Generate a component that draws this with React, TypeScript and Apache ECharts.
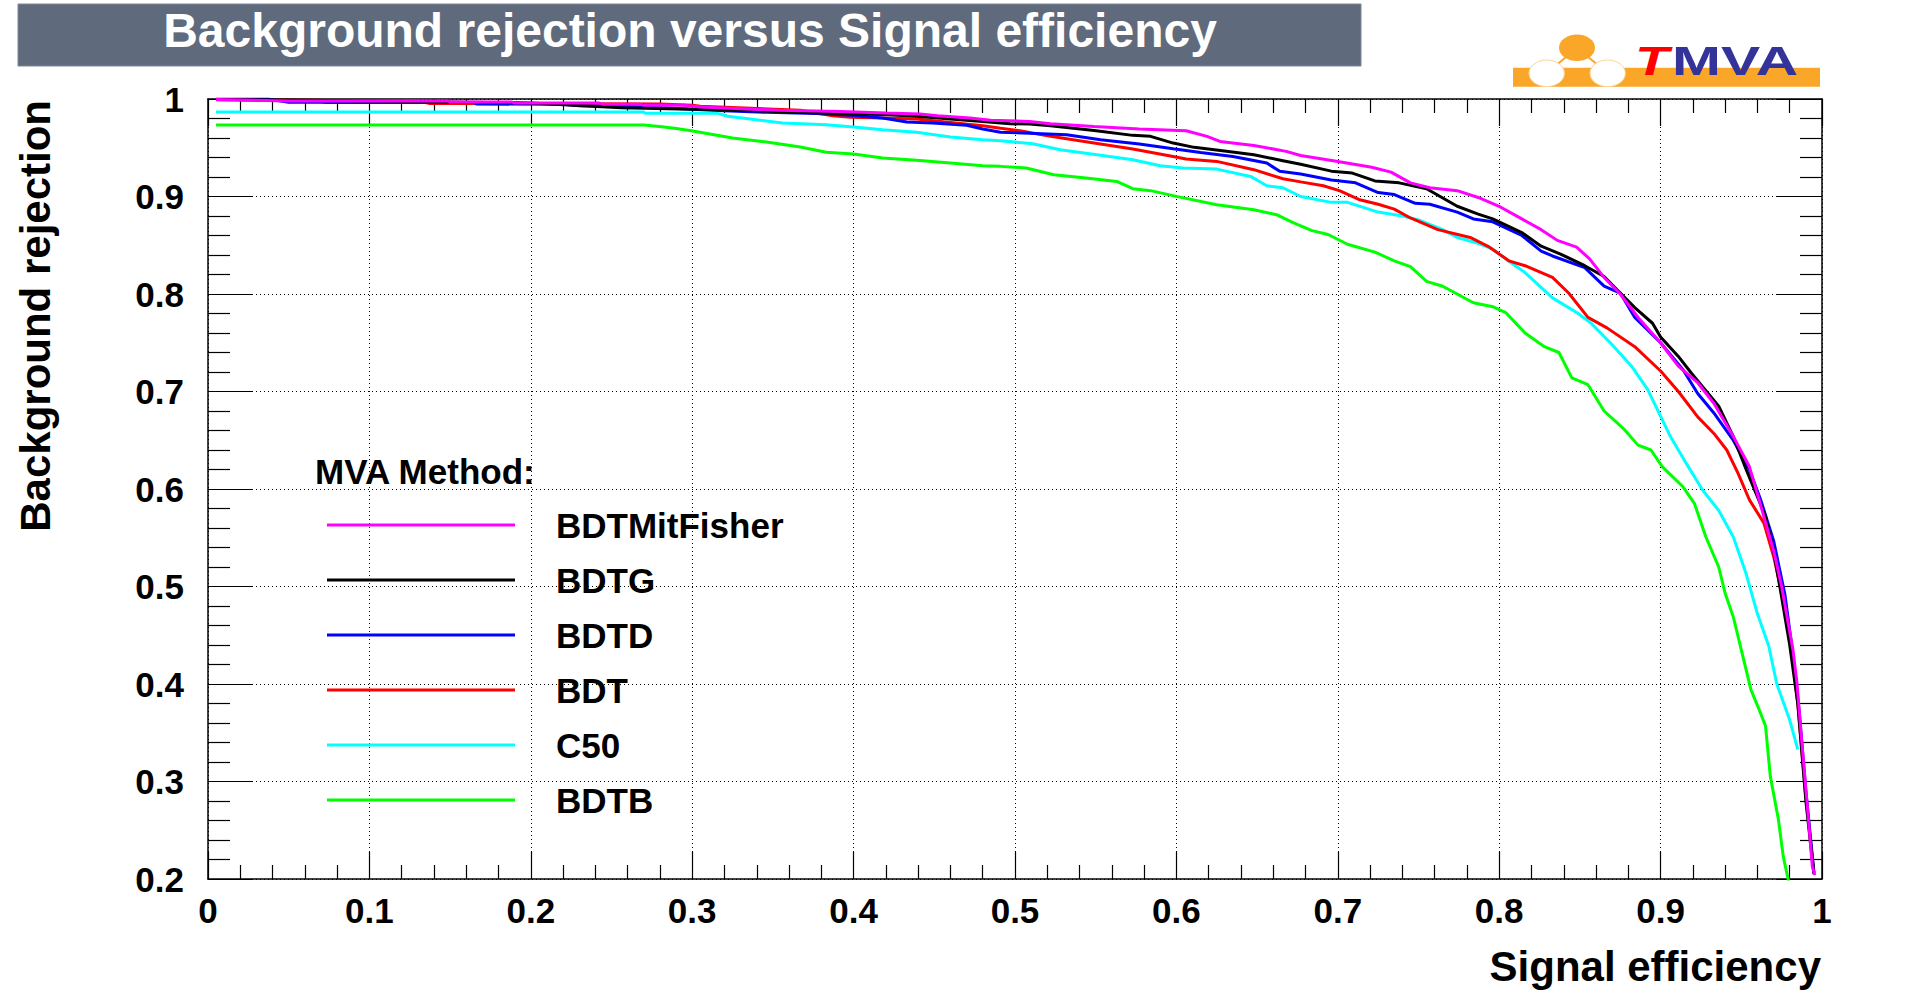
import React, { useEffect, useRef } from "react";
import * as echarts from "echarts";

const FONT = "'Liberation Sans', Arial, Helvetica, sans-serif";

const chartTitle = "Background rejection versus Signal efficiency";
const xTitle = "Signal efficiency";
const yTitle = "Background rejection";
const legendHeader = "MVA Method:";

// legend order (top to bottom)
const methodNames = ["BDTMitFisher", "BDTG", "BDTD", "BDT", "C50", "BDTB"];
const methodColors = ["#ff00ff", "#000000", "#0000ff", "#ff0000", "#00ffff", "#00ff00"];

// [signal efficiency, background rejection]
const BDTMitFisher: [number, number][] = [
  [0.005, 0.9995], [0.05, 0.998], [0.149, 0.998], [0.15, 0.997], [0.188, 0.997], [0.19, 0.996],
  [0.242, 0.996], [0.245, 0.9945], [0.268, 0.9945], [0.27, 0.9935], [0.295, 0.9935], [0.305, 0.9918],
  [0.354, 0.9884], [0.392, 0.9873], [0.42, 0.9856], [0.441, 0.9846], [0.452, 0.9829], [0.472, 0.9805],
  [0.485, 0.9781], [0.509, 0.977], [0.522, 0.9746], [0.549, 0.9719], [0.577, 0.9692], [0.606, 0.9675],
  [0.619, 0.9617], [0.627, 0.9565], [0.648, 0.9524], [0.668, 0.9463], [0.677, 0.942], [0.7, 0.936],
  [0.721, 0.93], [0.733, 0.925], [0.745, 0.914], [0.757, 0.909], [0.774, 0.906], [0.787, 0.899],
  [0.801, 0.889], [0.814, 0.877], [0.826, 0.866], [0.836, 0.855], [0.848, 0.848], [0.856, 0.836],
  [0.865, 0.817], [0.875, 0.8], [0.887, 0.774], [0.9, 0.75], [0.911, 0.726], [0.923, 0.709],
  [0.933, 0.688], [0.945, 0.654], [0.955, 0.623], [0.961, 0.589], [0.97, 0.537], [0.975, 0.5],
  [0.982, 0.435], [0.9845, 0.401], [0.987, 0.35], [0.9906, 0.281], [0.994, 0.213], [0.9955, 0.204],
];

const BDTG: [number, number][] = [
  [0.005, 0.9995], [0.1, 0.998], [0.2, 0.996], [0.256, 0.991], [0.3, 0.9895], [0.32, 0.989],
  [0.387, 0.985], [0.418, 0.984], [0.439, 0.9822], [0.46, 0.9795], [0.48, 0.977], [0.497, 0.9746],
  [0.509, 0.9743], [0.522, 0.9726], [0.549, 0.9678], [0.573, 0.9627], [0.584, 0.9617], [0.598, 0.9548],
  [0.611, 0.9504], [0.631, 0.9463], [0.648, 0.9428], [0.666, 0.9367], [0.677, 0.933], [0.696, 0.926],
  [0.709, 0.924], [0.723, 0.916], [0.738, 0.914], [0.755, 0.908], [0.774, 0.89], [0.787, 0.882],
  [0.796, 0.877], [0.814, 0.863], [0.826, 0.849], [0.838, 0.841], [0.853, 0.829], [0.865, 0.818],
  [0.875, 0.801], [0.884, 0.786], [0.895, 0.77], [0.9, 0.756], [0.911, 0.736], [0.919, 0.719],
  [0.936, 0.685], [0.945, 0.654], [0.953, 0.62], [0.959, 0.596], [0.965, 0.572], [0.97, 0.537],
  [0.975, 0.489], [0.98, 0.44], [0.985, 0.38], [0.99, 0.28], [0.995, 0.205],
];

const BDTD: [number, number][] = [
  [0.005, 1.0], [0.037, 1.0], [0.05, 0.9966], [0.07, 0.9966], [0.074, 0.9963], [0.165, 0.9963],
  [0.166, 0.9949], [0.22, 0.9945], [0.23, 0.993], [0.256, 0.9925], [0.285, 0.9908], [0.3, 0.9895],
  [0.32, 0.988], [0.346, 0.9863], [0.377, 0.985], [0.398, 0.9833], [0.418, 0.9805], [0.433, 0.9764],
  [0.449, 0.9753], [0.47, 0.973], [0.48, 0.9692], [0.491, 0.966], [0.509, 0.9648], [0.532, 0.9634],
  [0.553, 0.9582], [0.577, 0.9538], [0.598, 0.949], [0.615, 0.9452], [0.635, 0.9411], [0.656, 0.9343],
  [0.664, 0.9258], [0.677, 0.923], [0.696, 0.917], [0.711, 0.914], [0.725, 0.904], [0.735, 0.902],
  [0.748, 0.893], [0.757, 0.892], [0.774, 0.884], [0.784, 0.877], [0.796, 0.874], [0.814, 0.86],
  [0.826, 0.844], [0.833, 0.839], [0.853, 0.827], [0.865, 0.808], [0.875, 0.801], [0.884, 0.776],
  [0.9, 0.75], [0.914, 0.722], [0.923, 0.698], [0.933, 0.678], [0.945, 0.65], [0.955, 0.62],
  [0.962, 0.589], [0.97, 0.547], [0.977, 0.492], [0.982, 0.43], [0.986, 0.37], [0.99, 0.29],
  [0.995, 0.207],
];

const BDT: [number, number][] = [
  [0.005, 0.9993], [0.13, 0.998], [0.137, 0.9955], [0.28, 0.995], [0.3, 0.9935], [0.305, 0.9925],
  [0.367, 0.9884], [0.387, 0.9829], [0.398, 0.9812], [0.418, 0.9805], [0.439, 0.9795], [0.46, 0.976],
  [0.48, 0.9726], [0.491, 0.97], [0.503, 0.9675], [0.522, 0.9617], [0.549, 0.9548], [0.573, 0.9487],
  [0.598, 0.9411], [0.606, 0.9384], [0.625, 0.936], [0.648, 0.9275], [0.666, 0.9182], [0.677, 0.915],
  [0.691, 0.911], [0.701, 0.906], [0.713, 0.897], [0.725, 0.892], [0.735, 0.887], [0.745, 0.878],
  [0.762, 0.866], [0.782, 0.858], [0.794, 0.848], [0.806, 0.834], [0.816, 0.829], [0.833, 0.817],
  [0.843, 0.801], [0.855, 0.776], [0.867, 0.765], [0.884, 0.746], [0.9, 0.721], [0.911, 0.7],
  [0.923, 0.674], [0.933, 0.657], [0.941, 0.64], [0.948, 0.616], [0.955, 0.589], [0.964, 0.565],
  [0.97, 0.531], [0.976, 0.486], [0.981, 0.435], [0.985, 0.38], [0.99, 0.285], [0.995, 0.206],
];

const C50: [number, number][] = [
  [0.005, 0.9866], [0.27, 0.9866], [0.271, 0.9853], [0.316, 0.9853], [0.322, 0.9823], [0.336, 0.9795],
  [0.356, 0.9753], [0.383, 0.9736], [0.4, 0.9712], [0.418, 0.9685], [0.439, 0.9658], [0.46, 0.961],
  [0.48, 0.9583], [0.491, 0.9572], [0.511, 0.9541], [0.528, 0.948], [0.553, 0.9422], [0.573, 0.9377],
  [0.59, 0.9316], [0.604, 0.9292], [0.625, 0.9281], [0.646, 0.9206], [0.656, 0.911], [0.666, 0.909],
  [0.677, 0.9], [0.696, 0.894], [0.706, 0.894], [0.725, 0.884], [0.74, 0.88], [0.75, 0.876],
  [0.765, 0.866], [0.774, 0.858], [0.787, 0.852], [0.796, 0.846], [0.804, 0.836], [0.816, 0.822],
  [0.833, 0.796], [0.848, 0.781], [0.857, 0.77], [0.87, 0.748], [0.882, 0.726], [0.892, 0.702],
  [0.899, 0.678], [0.906, 0.654], [0.916, 0.626], [0.926, 0.599], [0.936, 0.578], [0.945, 0.551],
  [0.953, 0.513], [0.96, 0.472], [0.967, 0.439], [0.972, 0.4], [0.98, 0.363], [0.985, 0.333],
];

const BDTB: [number, number][] = [
  [0.005, 0.9733], [0.27, 0.9733], [0.275, 0.9725], [0.281, 0.9716], [0.289, 0.97], [0.2995, 0.9675],
  [0.31, 0.9644], [0.318, 0.962], [0.325, 0.96], [0.346, 0.9559], [0.367, 0.9507], [0.383, 0.9453],
  [0.4, 0.9436], [0.418, 0.9395], [0.439, 0.9371], [0.46, 0.9344], [0.48, 0.9316], [0.491, 0.9309],
  [0.507, 0.9292], [0.524, 0.9223], [0.544, 0.9189], [0.563, 0.9155], [0.573, 0.908], [0.584, 0.906],
  [0.6, 0.9001], [0.625, 0.8916], [0.648, 0.8864], [0.662, 0.8813], [0.673, 0.8728], [0.684, 0.865],
  [0.694, 0.861], [0.706, 0.851], [0.723, 0.843], [0.735, 0.834], [0.745, 0.828], [0.755, 0.813],
  [0.765, 0.808], [0.784, 0.791], [0.796, 0.787], [0.804, 0.781], [0.816, 0.76], [0.828, 0.746],
  [0.837, 0.74], [0.845, 0.714], [0.855, 0.707], [0.865, 0.68], [0.877, 0.662], [0.886, 0.645],
  [0.894, 0.64], [0.901, 0.623], [0.914, 0.602], [0.921, 0.585], [0.928, 0.551], [0.936, 0.52],
  [0.94, 0.493], [0.945, 0.469], [0.95, 0.435], [0.956, 0.394], [0.961, 0.374], [0.965, 0.357],
  [0.968, 0.305], [0.973, 0.261], [0.976, 0.223], [0.979, 0.2], [0.981, 0.18],
];

const methodData = [BDTMitFisher, BDTG, BDTD, BDT, C50, BDTB];

const xMin = 0;
const xMax = 1;
const yMin = 0.2;
const yMax = 1;
const tickStep = 0.1;

const fmt = (v: number) => String(parseFloat(v.toFixed(1)));

export default function App() {
  const ref = useRef<HTMLDivElement>(null);

  useEffect(() => {
    if (!ref.current) return;
    const chart = echarts.init(ref.current, null, { renderer: "svg" });

    const axisLineStyle = { color: "#000", width: 1.5 };
    const tickLine = { color: "#000", width: 1.2 };

    const makeX = (pos: "bottom" | "top") => ({
      type: "value",
      position: pos,
      min: xMin,
      max: xMax,
      interval: tickStep,
      axisLine: { show: true, onZero: false, lineStyle: axisLineStyle },
      axisTick: { show: true, inside: true, length: 27, lineStyle: tickLine },
      minorTick: { show: true, splitNumber: 5, length: 14, lineStyle: tickLine },
      axisLabel: {
        show: pos === "bottom",
        formatter: fmt,
        fontSize: 35,
        fontWeight: "bold",
        color: "#000",
        fontFamily: FONT,
        margin: 14,
      },
      splitLine: {
        show: pos === "bottom",
        lineStyle: { color: "#000", width: 1, type: [1, 3] },
      },
      minorSplitLine: { show: false },
    });

    const makeY = (pos: "left" | "right") => ({
      type: "value",
      position: pos,
      min: yMin,
      max: yMax,
      interval: tickStep,
      axisLine: { show: true, onZero: false, lineStyle: axisLineStyle },
      axisTick: { show: true, inside: true, length: 45, lineStyle: tickLine },
      minorTick: { show: true, splitNumber: 5, length: 22, lineStyle: tickLine },
      axisLabel: {
        show: pos === "left",
        formatter: fmt,
        fontSize: 35,
        fontWeight: "bold",
        color: "#000",
        fontFamily: FONT,
        margin: 24,
      },
      splitLine: {
        show: pos === "left",
        lineStyle: { color: "#000", width: 1, type: [1, 3] },
      },
      minorSplitLine: { show: false },
    });

    // draw order: reverse of legend order so BDTMitFisher is on top
    const order = [5, 4, 3, 2, 1, 0];
    const series = order.map((i) => ({
      name: methodNames[i],
      type: "line",
      xAxisIndex: 0,
      yAxisIndex: 0,
      data: methodData[i],
      showSymbol: false,
      symbol: "none",
      clip: true,
      silent: true,
      lineStyle: { color: methodColors[i], width: 3 },
      itemStyle: { color: methodColors[i] },
      emphasis: { disabled: true },
    }));

    const orange = "#faa628";

    const option: any = {
      animation: false,
      backgroundColor: "#ffffff",
      textStyle: { fontFamily: FONT },
      grid: { left: 208, top: 99, width: 1614, height: 780, containLabel: false },
      xAxis: [makeX("bottom"), makeX("top")],
      yAxis: [makeY("left"), makeY("right")],
      legend: {
        show: true,
        orient: "vertical",
        left: 327,
        top: 507.5,
        padding: 0,
        icon: "rect",
        itemWidth: 188,
        itemHeight: 3,
        itemGap: 20,
        selectedMode: false,
        data: methodNames,
        textStyle: {
          fontSize: 35,
          fontWeight: "bold",
          color: "#000",
          fontFamily: FONT,
          lineHeight: 35,
          padding: [0, 0, 0, 36],
        },
      },
      series,
      graphic: [
        // title box
        {
          type: "rect",
          shape: { x: 18, y: 4, width: 1343, height: 62 },
          style: { fill: "#5f6b7d", stroke: "#7d8898", lineWidth: 1 },
          silent: true,
        },
        {
          type: "text",
          x: 690,
          y: 30,
          silent: true,
          style: {
            text: chartTitle,
            fill: "#ffffff",
            fontSize: 48,
            fontWeight: "bold",
            fontFamily: FONT,
            align: "center",
            verticalAlign: "middle",
          },
        },
        // TMVA logo
        {
          type: "rect",
          shape: { x: 1513, y: 67.7, width: 307, height: 19 },
          style: { fill: orange },
          silent: true,
        },
        {
          type: "line",
          shape: { x1: 1577, y1: 47.7, x2: 1546.7, y2: 73.3 },
          style: { stroke: orange, lineWidth: 2 },
          silent: true,
        },
        {
          type: "line",
          shape: { x1: 1577, y1: 47.7, x2: 1607.7, y2: 73.3 },
          style: { stroke: orange, lineWidth: 2 },
          silent: true,
        },
        {
          type: "ellipse",
          shape: { cx: 1577, cy: 47.7, rx: 18, ry: 13.3 },
          style: { fill: orange },
          silent: true,
        },
        {
          type: "ellipse",
          shape: { cx: 1546.7, cy: 73.3, rx: 17.7, ry: 13.3 },
          style: { fill: "#ffffff", stroke: "#fcd596", lineWidth: 1 },
          silent: true,
        },
        {
          type: "ellipse",
          shape: { cx: 1607.7, cy: 73.3, rx: 17.7, ry: 13.3 },
          style: { fill: "#ffffff", stroke: "#fcd596", lineWidth: 1 },
          silent: true,
        },
        {
          type: "text",
          x: 1635,
          y: 61,
          scaleX: 1.35,
          silent: true,
          style: {
            text: "T",
            fill: "#ff0000",
            fontSize: 41,
            fontWeight: "bold",
            fontStyle: "italic",
            fontFamily: FONT,
            align: "left",
            verticalAlign: "middle",
          },
        },
        {
          type: "text",
          x: 1672,
          y: 61,
          scaleX: 1.47,
          silent: true,
          style: {
            text: "MVA",
            fill: "#333399",
            fontSize: 40,
            fontWeight: "bold",
            fontFamily: FONT,
            align: "left",
            verticalAlign: "middle",
          },
        },
        // axis titles
        {
          type: "text",
          x: 35,
          y: 100,
          rotation: Math.PI / 2,
          silent: true,
          style: {
            text: yTitle,
            fill: "#000",
            fontSize: 42,
            fontWeight: "bold",
            fontFamily: FONT,
            align: "right",
            verticalAlign: "middle",
          },
        },
        {
          type: "text",
          x: 1821,
          y: 966,
          silent: true,
          style: {
            text: xTitle,
            fill: "#000",
            fontSize: 42,
            fontWeight: "bold",
            fontFamily: FONT,
            align: "right",
            verticalAlign: "middle",
          },
        },
        // legend header
        {
          type: "text",
          x: 315,
          y: 471,
          silent: true,
          style: {
            text: legendHeader,
            fill: "#000",
            fontSize: 35,
            fontWeight: "bold",
            fontFamily: FONT,
            align: "left",
            verticalAlign: "middle",
          },
        },
      ],
    };

    chart.setOption(option);
    return () => chart.dispose();
  }, []);

  return (
    <div
      ref={ref}
      style={{ position: "fixed", left: 0, top: 0, width: 1918, height: 999, background: "#fff" }}
    />
  );
}
